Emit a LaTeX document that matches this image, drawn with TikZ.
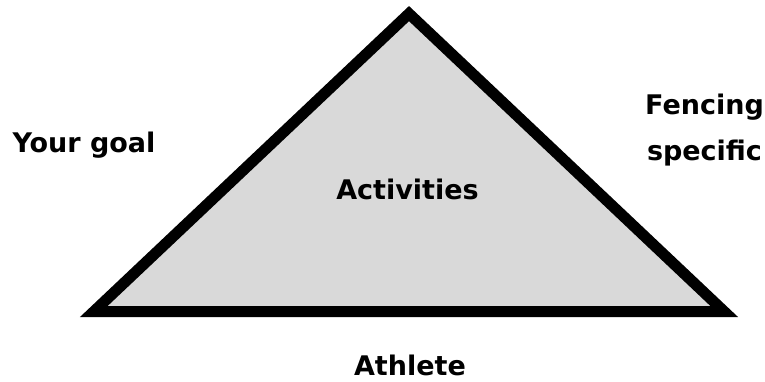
\documentclass[tikz,border=0pt]{standalone}
\usepackage{fontspec}
\setmainfont{DejaVu Sans}
\usetikzlibrary{positioning}

\definecolor{pyrfill}{RGB}{217,217,217}

\begin{document}
\begin{tikzpicture}[
  x=1pt, y=-1pt,
  pyramid/.style = {draw=black, line width=11pt, fill=pyrfill, miter limit=10},
  lbl/.style     = {font=\fontsize{27}{34}\selectfont\bfseries, align=center,
                    inner sep=0pt, anchor=base},
]

% ── Canvas ────────────────────────────────────────────────────────────────────
\useasboundingbox (0,0) rectangle (765,381);

% ── Triangle ──────────────────────────────────────────────────────────────────
\coordinate (top)   at (409,13.6);
\coordinate (left)  at (93.8,311.5);
\coordinate (right) at (724.2,311.5);
\draw[pyramid] (left) -- (top) -- (right) -- cycle;

% ── Labels ────────────────────────────────────────────────────────────────────
\node[lbl] (act)   at (407.5,199) {Activities};
\node[lbl] (goal)  at (84,152)    {Your goal};
\node[lbl] (fenc)  at (704.5,114) {Fencing};
\node[lbl] (spec)  at (704.5,160) {specific};
\node[lbl] (ath)   at (410,375)   {Athlete};

\end{tikzpicture}
\end{document}
